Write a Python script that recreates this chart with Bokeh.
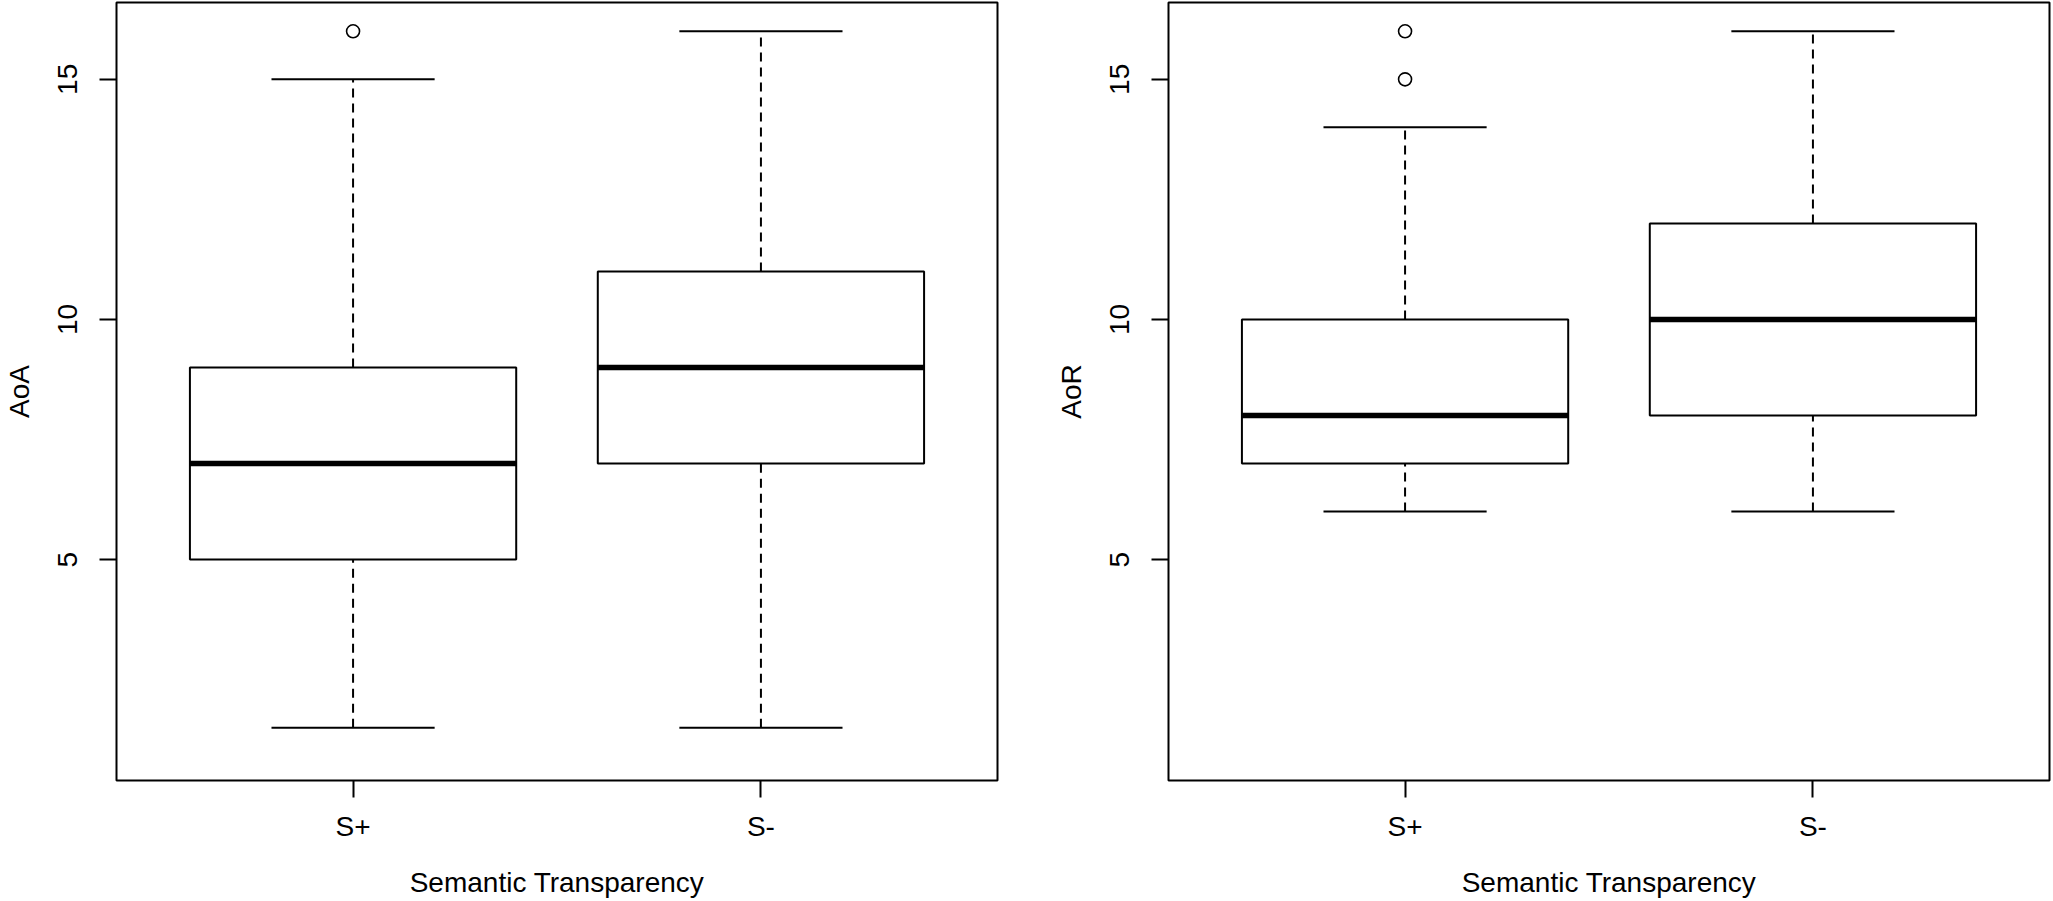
import numpy as np
from bokeh.plotting import figure
from bokeh.layouts import row
from bokeh.models import Range1d, FixedTicker
from bokeh.embed import file_html
from bokeh.resources import INLINE

# ---- data ----
categories = ["S+", "S-"]
x_title = "Semantic Transparency"

aoa_lower = [1.5, 1.5]
aoa_q1 = [5, 7]
aoa_median = [7, 9]
aoa_q3 = [9, 11]
aoa_upper = [15, 16]
aoa_out_cat = ["S+"]
aoa_out_val = [16]

aor_lower = [6, 6]
aor_q1 = [7, 8]
aor_median = [8, 10]
aor_q3 = [10, 12]
aor_upper = [14, 16]
aor_out_cat = ["S+", "S+"]
aor_out_val = [15, 16]

y_ticks = [5, 10, 15]

FONT = "Liberation Sans"
FS = "28px"


def make_panel(ylabel, lower, q1, med, q3, upper, out_cat, out_val,
               width, border_left, border_right):
    p = figure(width=width, height=900, output_backend="svg",
               toolbar_location=None,
               x_range=Range1d(0.42, 2.58), y_range=Range1d(0.4, 16.6),
               min_border_left=border_left, min_border_right=border_right,
               min_border_top=2, min_border_bottom=120)
    xs = np.arange(1, len(categories) + 1, dtype=float)
    half = 0.4
    cap = 0.2
    # whiskers (dashed)
    p.segment(x0=xs, y0=np.array(q3), x1=xs, y1=np.array(upper),
              line_color="black", line_width=2, line_dash="9 6")
    p.segment(x0=xs, y0=np.array(lower), x1=xs, y1=np.array(q1),
              line_color="black", line_width=2, line_dash="9 6")
    # staples
    p.segment(x0=xs - cap, y0=upper, x1=xs + cap, y1=upper,
              line_color="black", line_width=2)
    p.segment(x0=xs - cap, y0=lower, x1=xs + cap, y1=lower,
              line_color="black", line_width=2)
    # boxes
    p.quad(left=xs - half, right=xs + half, bottom=q1, top=q3,
           fill_color="white", line_color="black", line_width=2)
    # medians
    p.segment(x0=xs - half, y0=med, x1=xs + half, y1=med,
              line_color="black", line_width=5.5)
    # outliers
    ox = [categories.index(c) + 1 for c in out_cat]
    p.scatter(x=ox, y=out_val, marker="circle", size=13,
              fill_color=None, line_color="black", line_width=1.6)

    p.xgrid.visible = False
    p.ygrid.visible = False
    p.outline_line_color = "black"
    p.outline_line_width = 2
    p.background_fill_color = "white"
    p.border_fill_color = "white"

    xa = p.xaxis[0]
    xa.ticker = FixedTicker(ticks=list(xs))
    xa.major_label_overrides = {float(i + 1): c for i, c in enumerate(categories)}
    xa.axis_label = x_title
    ya = p.yaxis[0]
    ya.ticker = FixedTicker(ticks=y_ticks)
    ya.axis_label = ylabel
    ya.major_label_orientation = "vertical"

    for ax in (xa, ya):
        ax.axis_line_color = None
        ax.major_tick_line_color = "black"
        ax.major_tick_line_width = 2
        ax.major_tick_in = 0
        ax.major_tick_out = 17
        ax.minor_tick_line_color = None
        ax.major_label_text_font = FONT
        ax.major_label_text_font_size = FS
        ax.major_label_text_color = "black"
        ax.axis_label_text_font = FONT
        ax.axis_label_text_font_size = FS
        ax.axis_label_text_font_style = "normal"
        ax.axis_label_text_color = "black"
    xa.major_label_standoff = 13
    xa.axis_label_standoff = 22
    ya.major_label_standoff = 22
    ya.axis_label_standoff = 21
    return p


p1 = make_panel("AoA", aoa_lower, aoa_q1, aoa_median, aoa_q3, aoa_upper,
                aoa_out_cat, aoa_out_val, width=1052, border_left=116,
                border_right=55)
p2 = make_panel("AoR", aor_lower, aor_q1, aor_median, aor_q3, aor_upper,
                aor_out_cat, aor_out_val, width=1001, border_left=116,
                border_right=4)

layout = row(p1, p2)
open("out.html", "w").write(file_html(layout, INLINE))
